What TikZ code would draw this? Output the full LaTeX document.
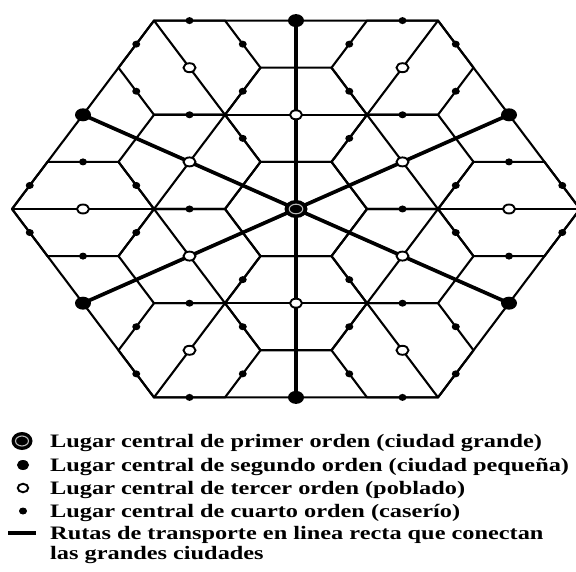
\documentclass[tikz,border=0pt]{standalone}
\usepackage{fontspec}
\setmainfont{Liberation Serif}
\newfontfamily\legfont[FakeStretch=1.28]{Liberation Serif}
\usetikzlibrary{shapes.geometric}
\begin{document}
\begin{tikzpicture}[x=1pt,y=1pt,
  gridline/.style={line width=2.1pt, line cap=round, line join=round},
  routeline/.style={line width=3.7pt, line cap=round},
  placeA/.style={ellipse, fill=black, inner sep=0pt, minimum width=23pt, minimum height=18pt},
  placeB/.style={ellipse, fill=black, inner sep=0pt, minimum width=16pt, minimum height=13pt},
  placeC/.style={ellipse, draw=black, line width=1.9pt, fill=white, inner sep=0pt, minimum width=12pt, minimum height=9pt},
  placeD/.style={ellipse, fill=black, inner sep=0pt, minimum width=8pt, minimum height=7pt},
  legtext/.style={anchor=base west, inner sep=0pt, font=\legfont\fontsize{19}{23}\selectfont\bfseries}
]
\fill[white] (0,0) rectangle (576,571);
\useasboundingbox (0,0) rectangle (576,571);
\begin{scope}[shift={(296pt,362pt)}, x=35.5pt, y=47.1pt]
  % place coordinates
  \coordinate (c0) at (0,0);
  \coordinate (s1) at (0,4);
  \coordinate (s2) at (-6,2);
  \coordinate (s3) at (-6,-2);
  \coordinate (s4) at (0,-4);
  \coordinate (s5) at (6,-2);
  \coordinate (s6) at (6,2);
  \coordinate (t1) at (0,2);
  \coordinate (t2) at (-3,1);
  \coordinate (t3) at (-3,-1);
  \coordinate (t4) at (0,-2);
  \coordinate (t5) at (3,-1);
  \coordinate (t6) at (3,1);
  \coordinate (t7) at (-3,3);
  \coordinate (t8) at (-6,0);
  \coordinate (t9) at (-3,-3);
  \coordinate (t10) at (3,-3);
  \coordinate (t11) at (6,0);
  \coordinate (t12) at (3,3);
  % hexagonal market areas of the third-order places
  \foreach \a/\b in {0/0,0/2,0/-2,3/1,-3/1,3/-1,-3/-1,3/3,-3/3,3/-3,-3/-3,6/0,-6/0}
    \draw[gridline] ({\a-2},\b) -- ({\a-1},{\b+1}) -- ({\a+1},{\b+1}) -- ({\a+2},\b)
      -- ({\a+1},{\b-1}) -- ({\a-1},{\b-1}) -- cycle;
  % diameters
  \foreach \ax/\ay/\bx/\by in {-2/2/2/2, -2/-2/2/-2, 2/2/4/0, -2/2/-4/0, 2/-2/4/0, -2/-2/-4/0,
      2/2/4/4, -2/2/-4/4, 2/-2/4/-4, -2/-2/-4/-4, -8/0/-4/0, 4/0/8/0}
    \draw[gridline] (\ax,\ay) -- (\bx,\by);
  % outer hexagon
  \draw[gridline] (-8,0) -- (-4,4) -- (4,4) -- (8,0) -- (4,-4) -- (-4,-4) -- cycle;
  % transport routes
  \foreach \s in {s1,s2,s3,s4,s5,s6}
    \draw[routeline] (c0) -- (\s);
  % fourth-order places
  \foreach \px/\py [count=\k] in {-3/4, 3/4, -4.5/3.5, -1.5/3.5, 1.5/3.5, 4.5/3.5,
      -4.5/2.5, -1.5/2.5, 1.5/2.5, 4.5/2.5, -3/2, 3/2, -1.5/1.5, 1.5/1.5, -6/1, 6/1,
      -7.5/0.5, -4.5/0.5, 4.5/0.5, 7.5/0.5, -3/0, 3/0,
      -7.5/-0.5, -4.5/-0.5, 4.5/-0.5, 7.5/-0.5, -6/-1, 6/-1, -1.5/-1.5, 1.5/-1.5,
      -3/-2, 3/-2, -4.5/-2.5, -1.5/-2.5, 1.5/-2.5, 4.5/-2.5,
      -4.5/-3.5, -1.5/-3.5, 1.5/-3.5, 4.5/-3.5, -3/-4, 3/-4}
    \node[placeD] (d\k) at (\px,\py) {};
  % third-order places
  \foreach \t in {1,...,12}
    \node[placeC] (nt\t) at (t\t) {};
  % second-order places
  \foreach \s in {1,...,6}
    \node[placeB] (ns\s) at (s\s) {};
  % first-order place
  \node[placeA] (nc) at (c0) {};
  \draw[gray!55, line width=1.1pt] (c0) ellipse (6.8pt and 4.8pt);
\end{scope}
% legend
\node[placeA, minimum width=21pt, minimum height=18pt] (lA) at (22,130) {};
\draw[gray!55, line width=1.1pt] (lA.center) ellipse (6.5pt and 5pt);
\node[placeB, minimum width=12pt, minimum height=10pt] (lB) at (23,106) {};
\node[placeC, minimum width=10.5pt, minimum height=8.5pt] (lC) at (23,83) {};
\node[placeD] (lD) at (23,60) {};
\coordinate (lE1) at (8,38);
\coordinate (lE2) at (36,38);
\draw[routeline, line cap=butt, line width=3.8pt] (lE1) -- (lE2);
\node[legtext] (t1) at (50,124) {Lugar central de primer orden (ciudad grande)};
\node[legtext] (t2) at (50,100) {Lugar central de segundo orden (ciudad pequeña)};
\node[legtext] (t3) at (50,77) {Lugar central de tercer orden (poblado)};
\node[legtext] (t4) at (50,54) {Lugar central de cuarto orden (caserío)};
\node[legtext] (t5) at (50,32) {Rutas de transporte en linea recta que conectan};
\node[legtext] (t6) at (50,12) {las grandes ciudades};
\end{tikzpicture}
\end{document}
